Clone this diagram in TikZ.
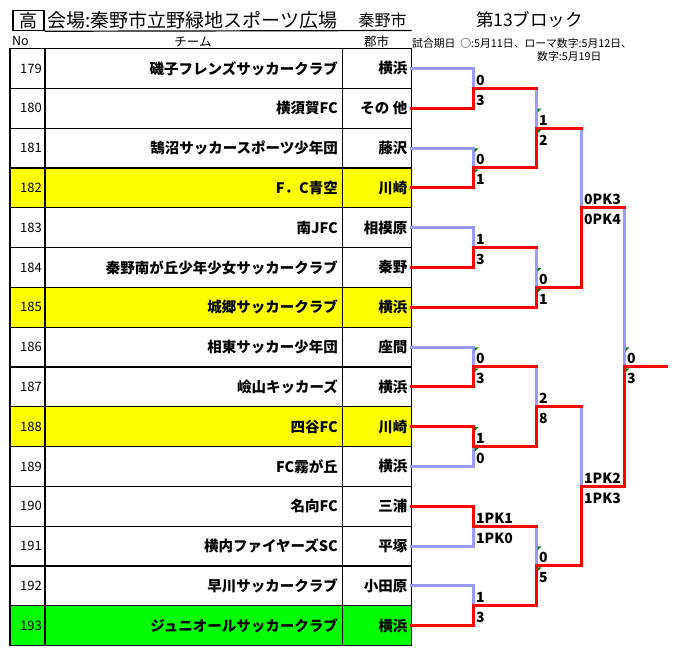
\documentclass[tikz,border=0pt]{standalone}
\usepackage{fontspec}
\setmainfont{Noto Sans CJK JP}
\usepackage{xcolor}
\usepackage{tikz}
\usetikzlibrary{calc}
\definecolor{winred}{HTML}{FF0000}
\definecolor{loseblue}{HTML}{9999FF}
\definecolor{rowyel}{HTML}{FFFF00}
\definecolor{rowgrn}{HTML}{00FF00}
\definecolor{flaggreen}{HTML}{008000}
\tikzset{
  grid/.style={draw=black, line width=1.2pt},
  won/.style={draw=winred, line width=3pt, line cap=rect, line join=miter},
  lost/.style={draw=loseblue, line width=3pt, line cap=rect, line join=miter},
  txt/.style={inner sep=0pt, text=black},
  num/.style={txt, anchor=east, font=\fontsize{13}{13}\selectfont},
  team/.style={txt, anchor=east, font=\fontsize{14.5}{14.5}\selectfont\bfseries},
  score/.style={txt, anchor=base west, font=\fontsize{14}{14}\selectfont\bfseries},
  hdr/.style={txt, font=\fontsize{12.5}{12.5}\selectfont},
  memo/.style={txt, anchor=west, font=\fontsize{10.8}{10.8}\selectfont},
  flag/.style={fill=flaggreen},
}

\begin{document}
\begin{tikzpicture}[x=1pt,y=-1pt]
  \useasboundingbox (0,0) rectangle (683,669);
  \node[txt, draw, line width=1.5pt, minimum width=31pt, minimum height=20pt,
    font=\fontsize{18}{18}\selectfont] (hi) at (28.5,20.5) {高};
  \node[txt, anchor=west, font=\fontsize{19}{19}\selectfont] (venue) at (47,20.5) {会場:秦野市立野緑地スポーツ広場};
  \node[txt, font=\fontsize{16}{16}\selectfont] (host) at (382.5,20.5) {秦野市};
  \node[txt, font=\fontsize{17.5}{17.5}\selectfont] (block) at (529.5,20) {第13ブロック};
  \coordinate (ul) at (411.5,30.5);
  \draw[grid] (hi.south east) -- (ul);
  \node[hdr, anchor=west] (hno) at (12,41.5) {No};
  \node[hdr] (hteam) at (193,41.5) {チーム};
  \node[hdr] (hcity) at (376.5,41.5) {郡市};
  \node[memo] (memo1) at (412,43.5) {試合期日\hspace{5pt}○:5月11日、ローマ数字:5月12日、};
  \node[memo] (memo2) at (537,56) {数字:5月19日};
  \foreach \i/\n/\club/\city/\fc in {
      0/179/磯子フレンズサッカークラブ/横浜/white,
      1/180/横須賀FC/その 他/white,
      2/181/鵠沼サッカースポーツ少年団/藤沢/white,
      3/182/F．C青空/川崎/rowyel,
      4/183/南JFC/相模原/white,
      5/184/秦野南が丘少年少女サッカークラブ/秦野/white,
      6/185/城郷サッカークラブ/横浜/rowyel,
      7/186/相東サッカー少年団/座間/white,
      8/187/嶮山キッカーズ/横浜/white,
      9/188/四谷FC/川崎/rowyel,
      10/189/FC霧が丘/横浜/white,
      11/190/名向FC/三浦/white,
      12/191/横内ファイヤーズSC/平塚/white,
      13/192/早川サッカークラブ/小田原/white,
      14/193/ジュニオールサッカークラブ/横浜/rowgrn}{
    \pgfmathsetmacro\yt{48.5+39.8*\i}
    \pgfmathsetmacro\yc{\yt+19.9}
    \fill[\fc] (10,\yt) rectangle (411.5,\yt+39.8);
    \node[num] (n\n) at (42,\yc) {\n};
    \node[team] (t\n) at (338,\yc) {\club};
    \node[team] (c\n) at (407.5,\yc) {\city};
    \coordinate (e\n) at (411.5,\yc);
  }
  \foreach \k in {0,...,15}
    \draw[grid] (10,{48.5+39.8*\k}) -- (411.5,{48.5+39.8*\k});
  \foreach \x in {10,45,342.5,411.5}
    \draw[grid] (\x,48.5) -- (\x,645.5);
  \coordinate (A1) at (473,88.3);
  \coordinate (A2) at (473,167.9);
  \coordinate (A3) at (473,247.5);
  \coordinate (A4) at (473,366.9);
  \coordinate (A5) at (473,446.5);
  \coordinate (A6) at (473,526.1);
  \coordinate (A7) at (473,605.7);
  \coordinate (B1) at (536,128.1);
  \coordinate (B2) at (536,287.3);
  \coordinate (B3) at (536,406.7);
  \coordinate (B4) at (536,565.9);
  \coordinate (C1) at (581,207.7);
  \coordinate (C2) at (581,486.3);
  \coordinate (F) at (624,366.9);
  \coordinate (W) at (666,366.9);
  \foreach \a/\b in {e179/A1,e181/A2,e183/A3,e186/A4,e189/A5,e191/A6,e192/A7,
      A1/B1,A3/B2,A4/B3,A6/B4,B1/C1,B3/C2,C1/F}
    \draw[lost] (\a) -| (\b);
  \foreach \a/\b in {e180/A1,e182/A2,e184/A3,e185/B2,e187/A4,e188/A5,e190/A6,e193/A7,
      A2/B1,A5/B3,A7/B4,B2/C1,B4/C2,C2/F}
    \draw[won] (\a) -| (\b);
  \foreach \a/\b in {A1/B1,A3/B2,A4/B3,A6/B4,B1/C1,B3/C2,C1/F}
    \draw[won] (\a) -- (\a -| \b);
  \draw[won] (F) -- (W);
  \foreach \J/\up/\dn in {A1/0/3,A2/0/1,A3/1/3,A4/0/3,A5/1/0,A6/1PK1/1PK0,A7/1/3,
      B1/1/2,B2/0/1,B3/2/8,B4/0/5,C1/0PK3/0PK4,C2/1PK2/1PK3,F/0/3}{
    \node[score] (\J-up) at ($(\J)+(3,-3)$) {\up};
    \node[score] (\J-dn) at ($(\J)+(3,17)$) {\dn};
  }
  \foreach \J in {B1,A2,B2,A4,A5,B4,F}{
    \fill[flag] ($(\J)+(1.5,-19.5)$) -- ++(4,0) -- ++(-4,4) -- cycle;
    \fill[flag] ($(\J)+(1.5,1.5)$) -- ++(4,0) -- ++(-4,4) -- cycle;
  }
\end{tikzpicture}
\end{document}
